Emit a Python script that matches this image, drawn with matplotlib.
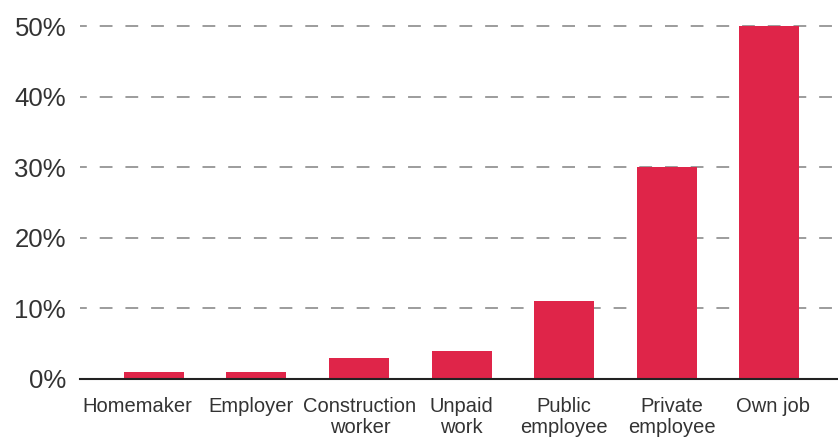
import matplotlib
matplotlib.use("Agg")
import matplotlib.pyplot as plt
from matplotlib.ticker import FuncFormatter
from matplotlib.transforms import ScaledTranslation, blended_transform_factory

plt.rcParams['font.family'] = ['Liberation Sans', 'DejaVu Sans']
plt.rcParams['lines.scale_dashes'] = False

categories = ["Homemaker", "Employer", "Construction\nworker", "Unpaid\nwork",
              "Public\nemployee", "Private\nemployee", "Own job"]
shares = [1, 1, 3, 4, 11, 30, 50]
y_ticks = [0, 10, 20, 30, 40, 50]

bar_color = "#DF2549"
text_color = "#333333"

fig = plt.figure(figsize=(8.38, 4.38), dpi=100)
ax = fig.add_axes([80 / 838, 1 - 379 / 438, 1 - 80 / 838, (379 - 12) / 438])

x = list(range(len(categories)))
ax.bar(x, shares, width=0.585, color=bar_color, zorder=3)

ax.set_xlim(-0.72, 6.67)
ax.set_ylim(0, 52)
ax.set_yticks(y_ticks)
ax.yaxis.set_major_formatter(FuncFormatter(lambda v, p: f"{v:.0f}%"))
ax.set_xticks(x)
ax.set_xticklabels([])

# category labels, one text per line, with small sideways nudges (pixels)
label_shift_px = [-17, -5, 1, 0, 0, 5, 4]
line_drop_px = [33, 54]
base = blended_transform_factory(ax.transData, ax.transAxes)
for xi, name, dx in zip(x, categories, label_shift_px):
    for line, dy in zip(name.split("\n"), line_drop_px):
        tr = base + ScaledTranslation(dx / 100, -dy / 100, fig.dpi_scale_trans)
        ax.text(xi, 0, line, transform=tr, ha="center", va="baseline",
                fontsize=14.5, color=text_color)

for v in y_ticks[1:]:
    ax.axhline(v, color="#9c9c9c", lw=1.4, linestyle=(4.3, (9.2, 9.3)),
               dash_capstyle="butt", zorder=1)

for s in ["top", "right", "left"]:
    ax.spines[s].set_visible(False)
ax.spines["bottom"].set_color("#222222")
ax.spines["bottom"].set_linewidth(1.5)
ax.spines["bottom"].set_zorder(4)

ax.tick_params(axis="y", length=0, pad=10, labelsize=18.5, labelcolor=text_color)
ax.tick_params(axis="x", length=0)

fig.savefig("out.png", dpi=100, facecolor="white")
